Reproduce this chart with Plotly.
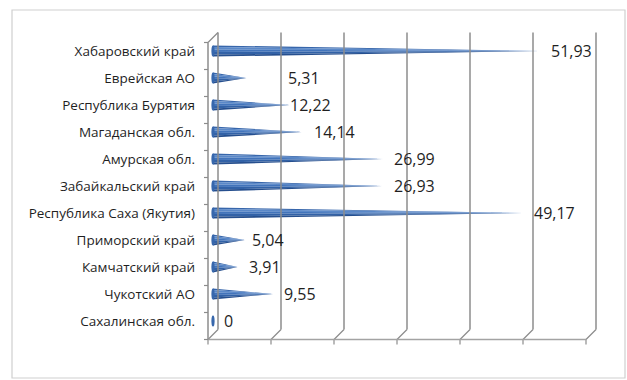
import plotly.graph_objects as go

# Regions (top to bottom) and their values
regions = [
    "Хабаровский край",
    "Еврейская АО",
    "Республика Бурятия",
    "Магаданская обл.",
    "Амурская обл.",
    "Забайкальский край",
    "Республика Саха (Якутия)",
    "Приморский край",
    "Камчатский край",
    "Чукотский АО",
    "Сахалинская обл.",
]
values = [51.93, 5.31, 12.22, 14.14, 26.99, 26.93, 49.17, 5.04, 3.91, 9.55, 0]

# horizontal nudges (px) of value labels past the cone tip
label_nudge = [9, 40, -2, 10, 9, 9, 9, 5, 9, 9, 9]

W, H = 627, 380
PX_L, PX_R, PX_T, PX_B = 200, 600, 28, 348
X0_PX, X_SCALE = 213, 6.3          # pixel of value 0, pixels per unit
Y0_PX, ROW = 51, 27                # pixel of first row, pixels per row

x_range = [(PX_L - X0_PX) / X_SCALE, (PX_R - X0_PX) / X_SCALE]
y_range = [(PX_B - Y0_PX) / ROW, (PX_T - Y0_PX) / ROW]

dx = 5 / X_SCALE    # depth offset (back wall / front edge)
dy = 5 / ROW
n = len(regions)

fig = go.Figure()

# cone bars built from shading bands (fractions of base height, top->bottom)
half = 5.6 / ROW
bands = [
    (0.00, 0.14, "#3766ab"),
    (0.14, 0.36, "#5a88c8"),
    (0.36, 0.58, "#4274bb"),
    (0.58, 0.82, "#3262a7"),
    (0.82, 1.00, "#264f8e"),
]
for f1, f2, col in bands:
    xs, ys = [], []
    for i, v in enumerate(values):
        if v <= 0:
            continue
        xs += [0, v, 0, 0, None]
        ys += [i - half + 2 * half * f1, i, i - half + 2 * half * f2,
               i - half + 2 * half * f1, None]
    fig.add_trace(go.Scatter(x=xs, y=ys, mode="lines", fill="toself",
                             fillcolor=col, line=dict(width=0),
                             hoverinfo="skip", showlegend=False))

shapes = []
grid_col = "#8c8c8c"
floor_col = "#a3a3a3"

# back wall gridlines and floor connectors with ticks
for g in range(0, 61, 10):
    shapes.append(dict(type="line", xref="x", yref="y",
                       x0=g + dx, x1=g + dx, y0=-0.5 - dy, y1=n - 0.5 - dy,
                       line=dict(color=grid_col, width=1.5)))
    shapes.append(dict(type="line", xref="x", yref="y",
                       x0=g + dx, x1=g - dx, y0=n - 0.5 - dy, y1=n - 0.5 + dy,
                       line=dict(color=grid_col, width=1.2)))
    shapes.append(dict(type="line", xref="x", yref="y",
                       x0=g - dx, x1=g - dx, y0=n - 0.5 + dy, y1=n - 0.5 + dy + 5 / ROW,
                       line=dict(color=grid_col, width=1.2)))

# front floor edge
shapes.append(dict(type="line", xref="x", yref="y",
                   x0=-dx, x1=60 - dx, y0=n - 0.5 + dy, y1=n - 0.5 + dy,
                   line=dict(color=floor_col, width=1.5)))
# front category axis line and top connector
shapes.append(dict(type="line", xref="x", yref="y",
                   x0=-dx, x1=-dx, y0=-0.5 + dy, y1=n - 0.5 + dy,
                   line=dict(color=grid_col, width=1.5)))
shapes.append(dict(type="line", xref="x", yref="y",
                   x0=-dx, x1=dx, y0=-0.5 + dy, y1=-0.5 - dy,
                   line=dict(color=grid_col, width=1.2)))
# category axis ticks
for b in range(n + 1):
    yb = b - 0.5 + dy
    shapes.append(dict(type="line", xref="x", yref="y",
                       x0=-dx, x1=-dx - 4 / X_SCALE, y0=yb, y1=yb,
                       line=dict(color=grid_col, width=1.2)))

# cone base ellipses
for i, v in enumerate(values):
    shapes.append(dict(type="circle", xref="x", yref="y",
                       x0=-1.6 / X_SCALE, x1=1.6 / X_SCALE,
                       y0=i - half, y1=i + half,
                       fillcolor="#3767ac", line=dict(width=0)))

# outer chart frame
def px_x(p):
    return (p - PX_L) / (PX_R - PX_L)

def px_y(p):
    return (PX_B - p) / (PX_B - PX_T)

shapes.append(dict(type="rect", xref="paper", yref="paper",
                   x0=px_x(12), x1=px_x(625), y0=px_y(378), y1=px_y(10),
                   line=dict(color="#cfcfcf", width=1.2), layer="below"))

# value labels
annotations = []
for i, v in enumerate(values):
    txt = "0" if v == 0 else f"{v:.2f}".replace(".", ",")
    annotations.append(dict(x=v, y=i, xref="x", yref="y", text=txt,
                            showarrow=False, xanchor="left", yanchor="middle",
                            xshift=label_nudge[i], yshift=0,
                            font=dict(family="Open Sans", size=16, color="#1f1f1f")))

fig.update_layout(
    width=W, height=H, autosize=False,
    margin=dict(l=PX_L, r=W - PX_R, t=PX_T, b=H - PX_B, pad=0),
    paper_bgcolor="white", plot_bgcolor="rgba(0,0,0,0)",
    shapes=shapes, annotations=annotations,
    xaxis=dict(range=x_range, showgrid=False, zeroline=False,
               showticklabels=False, showline=False, ticks=""),
    yaxis=dict(range=y_range, tickmode="array", tickvals=list(range(n)),
               ticktext=regions, showgrid=False, zeroline=False,
               showline=False, ticks="", ticklabelstandoff=4,
               tickfont=dict(family="Open Sans", size=13.5, color="#1f1f1f")),
)

fig.write_html("out.html")
